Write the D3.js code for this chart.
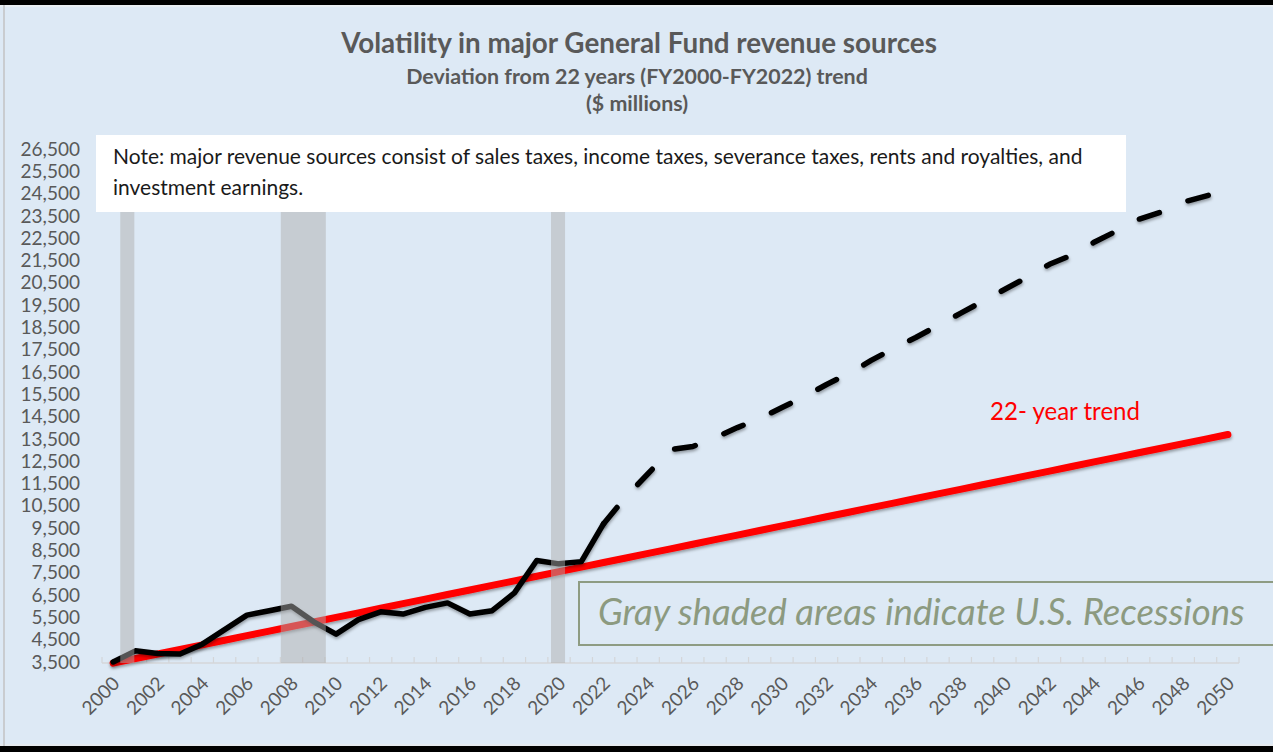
<!DOCTYPE html>
<html>
<head>
<meta charset="utf-8">
<script src="https://cdn.jsdelivr.net/npm/d3@7"></script>
<style>
  html, body { margin: 0; padding: 0; background: #dde9f5; }
  svg { display: block; font-family: Lato, "Open Sans", sans-serif; }
</style>
</head>
<body>
<svg id="chart" width="1273" height="752"></svg>
<script>
// ---------- data ----------
const years = d3.range(2000, 2051);   // category axis 2000..2050
const xTickLabels = ["2000","2002","2004","2006","2008","2010","2012","2014","2016","2018","2020","2022","2024",
  "2026","2028","2030","2032","2034","2036","2038","2040","2042","2044","2046","2048","2050"];
const yTicks = [3500,4500,5500,6500,7500,8500,9500,10500,11500,12500,13500,14500,15500,16500,17500,
  18500,19500,20500,21500,22500,23500,24500,25500,26500];

// 22-year trend (red), 2000..2050
const trendValues = [3450,3655,3860,4065,4270,4475,4680,4885,5090,5295,5500,5705,5910,6115,6320,6525,
  6730,6935,7140,7345,7550,7755,7960,8165,8370,8575,8780,8985,9190,9395,9600,9805,10010,10215,10420,
  10625,10830,11035,11240,11445,11650,11855,12060,12265,12470,12675,12880,13085,13290,13495,13700];

// actual revenue (solid black), 2000..2022
const actualYears = d3.range(2000, 2023);
const actualValues = [3500,4000,3880,3860,4300,4950,5600,5800,6000,5300,4750,5400,5750,5650,5950,6150,
  5650,5800,6600,8050,7900,8000,9700];

// projection (dashed black), 2022..2050
const projYears = d3.range(2022, 2051);
const projValues = [9700,10910,11950,13020,13160,13560,14010,14420,14910,15400,15940,16440,17020,17560,
  18050,18590,19130,19670,20210,20750,21330,21740,22320,22820,23350,23670,24120,24390,24660];

// US recessions (fractional fiscal-year positions)
const recessionStart = [2000.32, 2007.52, 2019.64];
const recessionEnd   = [2000.95, 2009.54, 2020.27];

const titleText = "Volatility in major General Fund revenue sources";
const subtitleText = "Deviation from 22 years (FY2000-FY2022) trend";
const unitText = "($ millions)";
const noteLines = ["Note: major revenue sources consist of sales taxes, income taxes, severance taxes, rents and royalties, and",
  "investment earnings."];
const trendLabel = "22- year trend";
const legendText = "Gray shaded areas indicate U.S. Recessions";

// ---------- drawing ----------
const svg = d3.select("#chart");
const W = 1273, H = 752;
const plotLeft = 102, plotRight = 1239, plotTop = 135, plotBottom = 663;

const defs = svg.append("defs");
const f = defs.append("filter").attr("id", "shadow").attr("x", "-5%").attr("y", "-20%").attr("width", "110%").attr("height", "140%");
f.append("feDropShadow").attr("dx", 0.5).attr("dy", 2).attr("stdDeviation", 1.4)
  .attr("flood-color", "#000").attr("flood-opacity", 0.35);

// background + frame
svg.append("rect").attr("width", W).attr("height", H).attr("fill", "#dde9f5");
svg.append("rect").attr("x", 0).attr("y", 0).attr("width", W).attr("height", 5).attr("fill", "#000");
svg.append("rect").attr("x", 0).attr("y", 5).attr("width", W).attr("height", 2).attr("fill", "#e9eef3");
svg.append("rect").attr("x", 0).attr("y", 746).attr("width", W).attr("height", 6).attr("fill", "#000");
svg.append("rect").attr("x", 0).attr("y", 744).attr("width", W).attr("height", 2).attr("fill", "#e4e9ee");
svg.append("rect").attr("x", 3).attr("y", 5).attr("width", 2).attr("height", 741).attr("fill", "#c9ccd0");

const x = d3.scaleBand().domain(years).range([plotLeft, plotRight]).paddingInner(0).paddingOuter(0);
const cx = d => x(d) + x.bandwidth() / 2;
const xLin = d3.scaleLinear().domain([2000, 2050]).range([cx(2000), cx(2050)]);
const y = d3.scaleLinear().domain([3500, 26500]).range([662, 149]);

// x axis line + inside ticks at category boundaries
const axisG = svg.append("g");
axisG.append("line").attr("x1", plotLeft).attr("x2", plotRight).attr("y1", plotBottom).attr("y2", plotBottom)
  .attr("stroke", "#d4d6d9").attr("stroke-width", 1.5);
axisG.selectAll("line.tk").data(years.concat([2051])).enter().append("line").attr("class", "tk")
  .attr("x1", d => d === 2051 ? plotRight : x(d)).attr("x2", d => d === 2051 ? plotRight : x(d))
  .attr("y1", plotBottom).attr("y2", plotBottom - 6)
  .attr("stroke", "#d4d6d9").attr("stroke-width", 1.2);

// x labels rotated
svg.append("g").selectAll("text").data(xTickLabels).enter().append("text")
  .attr("transform", d => `translate(${cx(+d) + 3},${plotBottom + 17}) rotate(-45)`)
  .attr("text-anchor", "end").attr("dy", "0.35em")
  .attr("font-size", 19).attr("fill", "#595959").text(d => d);

// y labels
const yAxis = d3.axisLeft(y).tickValues(yTicks).tickFormat(d3.format(",")).tickSize(0).tickPadding(0);
const yG = svg.append("g").attr("transform", "translate(80,0)").call(yAxis);
yG.select(".domain").remove();
yG.selectAll("text").attr("font-size", 19).attr("fill", "#595959").attr("font-family", "Lato, sans-serif");

// lines
const line = d3.line().x(d => cx(d[0])).y(d => y(d[1]));
svg.append("path").datum(years.map((yr, i) => [yr, trendValues[i]]))
  .attr("d", line).attr("fill", "none").attr("stroke", "#ff0000").attr("stroke-width", 7)
  .attr("stroke-linecap", "round").attr("stroke-linejoin", "round").attr("filter", "url(#shadow)");
svg.append("path").datum(actualYears.map((yr, i) => [yr, actualValues[i]]))
  .attr("d", line).attr("fill", "none").attr("stroke", "#000").attr("stroke-width", 5.5)
  .attr("stroke-linecap", "round").attr("stroke-linejoin", "round").attr("filter", "url(#shadow)");
svg.append("path").datum(projYears.map((yr, i) => [yr, projValues[i]]))
  .attr("d", line).attr("fill", "none").attr("stroke", "#000").attr("stroke-width", 5.5)
  .attr("stroke-dasharray", "21,31").attr("stroke-linecap", "round").attr("stroke-linejoin", "round")
  .attr("filter", "url(#shadow)");

// recession bands (drawn over lines, semi-transparent)
svg.append("g").selectAll("rect").data(recessionStart).enter().append("rect")
  .attr("x", (d, i) => xLin(d)).attr("width", (d, i) => xLin(recessionEnd[i]) - xLin(d))
  .attr("y", plotTop).attr("height", plotBottom - plotTop)
  .attr("fill", "#adadad").attr("fill-opacity", 0.49);

// helper: fit text to a measured width
function fitWidth(sel, target) {
  const w = sel.node().getComputedTextLength();
  const fs = parseFloat(sel.attr("font-size"));
  sel.attr("font-size", fs * target / w);
  return sel;
}

// note box
svg.append("rect").attr("x", 96).attr("y", 135).attr("width", 1030).attr("height", 77).attr("fill", "#ffffff");
const n1 = svg.append("text").attr("x", 113).attr("y", 164).attr("font-size", 16).attr("fill", "#1a1a1a").text(noteLines[0]);
fitWidth(n1, 970);
svg.append("text").attr("x", 113).attr("y", 195).attr("font-size", n1.attr("font-size")).attr("fill", "#1a1a1a").text(noteLines[1]);

// titles
const t1 = svg.append("text").attr("x", 639).attr("y", 53).attr("text-anchor", "middle")
  .attr("font-size", 22).attr("font-weight", 700).attr("fill", "#595959").text(titleText);
fitWidth(t1, 596);
const t2 = svg.append("text").attr("x", 637).attr("y", 84).attr("text-anchor", "middle")
  .attr("font-size", 17).attr("font-weight", 700).attr("fill", "#595959").text(subtitleText);
fitWidth(t2, 462);
svg.append("text").attr("x", 637).attr("y", 111).attr("text-anchor", "middle")
  .attr("font-size", t2.attr("font-size")).attr("font-weight", 700).attr("fill", "#595959").text(unitText);

// trend label
const tl = svg.append("text").attr("x", 990).attr("y", 420).attr("font-size", 18).attr("fill", "#ff0000").text(trendLabel);
fitWidth(tl, 150);

// legend box
svg.append("rect").attr("x", 579).attr("y", 582).attr("width", 720).attr("height", 63)
  .attr("fill", "none").attr("stroke", "#8e9c83").attr("stroke-width", 2);
const lg = svg.append("text").attr("x", 598).attr("y", 625).attr("font-size", 30).attr("font-style", "italic")
  .attr("fill", "#8c9a80").text(legendText);
fitWidth(lg, 647);
</script>
</body>
</html>
